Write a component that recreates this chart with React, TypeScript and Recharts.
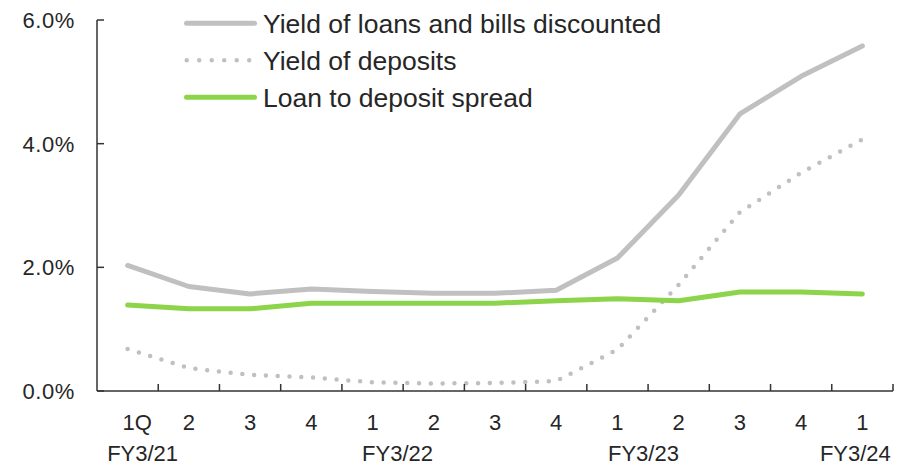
import React from "react";
import { LineChart, Line, XAxis, YAxis, Legend } from "recharts";

const quarters = ["1Q", "2", "3", "4", "1", "2", "3", "4", "1", "2", "3", "4", "1"];
const fiscalYears = ["FY3/21", "", "", "", "FY3/22", "", "", "", "FY3/23", "", "", "", "FY3/24"];
const loanYield = [2.03, 1.69, 1.57, 1.65, 1.61, 1.58, 1.58, 1.63, 2.15, 3.17, 4.48, 5.09, 5.58];
const depositYield = [0.68, 0.37, 0.26, 0.22, 0.14, 0.12, 0.13, 0.16, 0.67, 1.72, 2.89, 3.53, 4.07];
const spread = [1.39, 1.33, 1.33, 1.42, 1.42, 1.42, 1.42, 1.46, 1.49, 1.46, 1.6, 1.6, 1.57];
const yTicks = [0, 2, 4, 6];
const seriesNames = [
  "Yield of loans and bills discounted",
  "Yield of deposits",
  "Loan to deposit spread",
];

const WIDTH = 912;
const HEIGHT = 466;
const Y_AXIS_W = 97;
const RIGHT = 19;
const BAND = (WIDTH - Y_AXIS_W - RIGHT) / quarters.length;

const FONT = "'Liberation Sans', Arial, sans-serif";
const TEXT = "#262626";
const AXIS = "#333333";
const GRAY = "#c0c0c0";
const GREEN = "#8cd44a";

// small nudges so the labels sit where the original had them
const fyOffset: { [i: number]: number } = { 0: 15, 4: 25, 8: 26, 12: -7 };

const data = quarters.map((q, i) => ({
  quarter: q,
  loans: loanYield[i],
  deposits: depositYield[i],
  spread: spread[i],
}));

const YTick = ({ x, y, payload }: any) => (
  <g>
    <line x1={x + 22} x2={x + 29} y1={y} y2={y} stroke={AXIS} strokeWidth={1.5} />
    <text
      x={x}
      y={y}
      dy={8}
      textAnchor="end"
      fontSize={22}
      letterSpacing={0.6}
      fontFamily={FONT}
      fill={TEXT}
    >
      {Number(payload.value).toFixed(1)}%
    </text>
  </g>
);

const XTick = ({ x, y, payload, index }: any) => {
  const i = payload.index ?? index;
  const label = String(payload.value);
  const fy = fiscalYears[i];
  return (
    <g>
      <line
        x1={x + BAND / 2}
        x2={x + BAND / 2}
        y1={y}
        y2={y - 7}
        stroke={AXIS}
        strokeWidth={1.5}
      />
      <text
        x={x + (label.length > 1 ? 9.5 : 0)}
        y={y + 39}
        textAnchor="middle"
        fontSize={22}
        fontFamily={FONT}
        fill={TEXT}
      >
        {label}
      </text>
      {fy && (
        <text
          x={x + (fyOffset[i] || 0)}
          y={y + 70}
          textAnchor="middle"
          fontSize={22}
          fontFamily={FONT}
          fill={TEXT}
        >
          {fy}
        </text>
      )}
    </g>
  );
};

const LegendBox = () => (
  <svg width={520} height={120}>
    {seriesNames.map((name, i) => {
      const cy = 23.3 + i * 37;
      const dotted = i === 1;
      return (
        <g key={name}>
          <line
            x1={dotted ? 6.7 : 6.5}
            x2={dotted ? 70 : 74.5}
            y1={cy}
            y2={cy}
            stroke={i === 2 ? GREEN : GRAY}
            strokeWidth={dotted ? 4.5 : 5}
            strokeLinecap="round"
            strokeDasharray={dotted ? "0 12.5" : undefined}
          />
          <text x={83} y={cy + 9.2} fontSize={26.5} fontFamily={FONT} fill={TEXT}>
            {name}
          </text>
        </g>
      );
    })}
  </svg>
);

export default function App() {
  return (
    <div>
      <style>{"body{margin:0}"}</style>
      <LineChart
        width={WIDTH}
        height={HEIGHT}
        data={data}
        margin={{ top: 20, right: RIGHT, left: 0, bottom: 0 }}
      >
        <XAxis
          dataKey="quarter"
          interval={0}
          padding={{ left: BAND / 2, right: BAND / 2 }}
          height={75}
          tickSize={0}
          tickMargin={0}
          tickLine={false}
          axisLine={{ stroke: AXIS, strokeWidth: 1.5 }}
          tick={<XTick />}
        />
        <YAxis
          width={Y_AXIS_W}
          domain={[0, 6]}
          ticks={yTicks}
          tickSize={0}
          tickMargin={22}
          tickLine={false}
          axisLine={{ stroke: AXIS, strokeWidth: 1.5 }}
          tick={<YTick />}
        />
        <Legend
          layout="vertical"
          align="center"
          verticalAlign="middle"
          wrapperStyle={{ top: 0, left: 180, width: 520, height: 120 }}
          content={() => <LegendBox />}
        />
        <Line
          dataKey="loans"
          stroke={GRAY}
          strokeWidth={5}
          strokeLinecap="round"
          strokeLinejoin="round"
          dot={false}
          activeDot={false}
          isAnimationActive={false}
        />
        <Line
          dataKey="deposits"
          stroke={GRAY}
          strokeWidth={4.5}
          strokeLinecap="round"
          strokeDasharray="0 11.8"
          dot={false}
          activeDot={false}
          isAnimationActive={false}
        />
        <Line
          dataKey="spread"
          stroke={GREEN}
          strokeWidth={5}
          strokeLinecap="round"
          strokeLinejoin="round"
          dot={false}
          activeDot={false}
          isAnimationActive={false}
        />
      </LineChart>
    </div>
  );
}
